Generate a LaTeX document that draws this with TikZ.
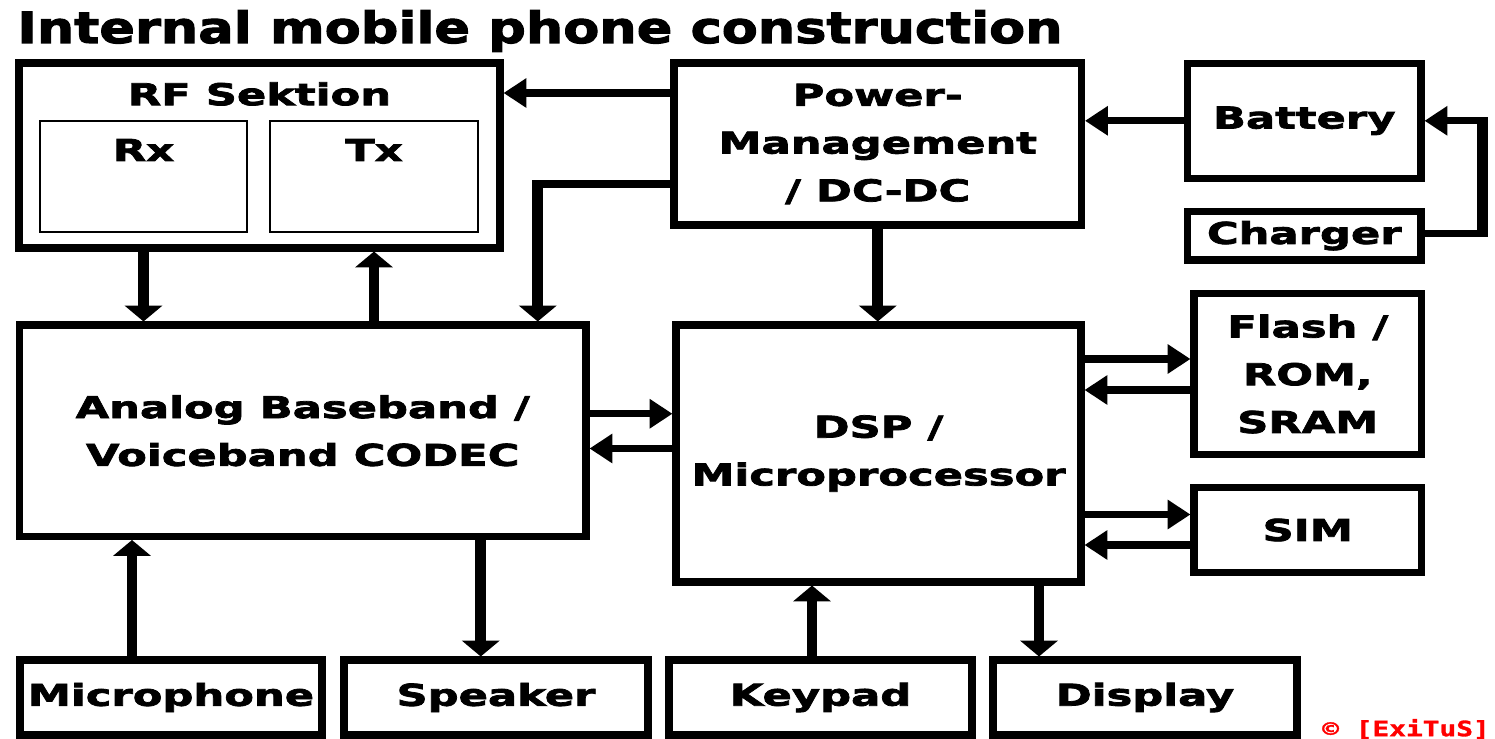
\documentclass[tikz,border=0pt]{standalone}
\usepackage{fontspec}
\usetikzlibrary{arrows.meta,calc,positioning}

\newfontfamily\boxfont{DejaVu Sans Bold}[FakeStretch=1.44,FakeBold=2.5]
\newfontfamily\headfont{DejaVu Sans Bold}[FakeStretch=1.22,FakeBold=2.5]
\newfontfamily\markfont{DejaVu Sans Mono Bold}[FakeStretch=1.32,FakeBold=1.5]
\newcommand{\boxtxt}{\boxfont\fontsize{17.1pt}{27.2pt}\selectfont}

\tikzset{
  block/.style 2 args={draw, line width=4pt, minimum width=#1*0.02cm,
    minimum height=#2*0.02cm, inner sep=0pt, align=center, font=\boxtxt},
  subblock/.style 2 args={draw, line width=1.5pt, minimum width=#1*0.02cm,
    minimum height=#2*0.02cm, inner sep=0pt},
  lbl/.style={inner sep=0pt, font=\boxtxt},
  arrv/.style={line width=6pt, -{Triangle[length=9pt,width=21pt]}},
  arrh/.style={line width=4.2pt, -{Triangle[length=13pt,width=16pt]}},
  linev/.style={line width=6pt},
  lineh/.style={line width=4.2pt},
}

\begin{document}
\begin{tikzpicture}[x=0.02cm, y=-0.02cm]
  \useasboundingbox[fill=white] (0,0) rectangle (1495,739);

  % title
  \node[anchor=base west, inner sep=0pt,
    font=\headfont\fontsize{24.5pt}{30pt}\selectfont] (title) at (17,43)
    {Internal mobile phone construction};

  % RF section with Rx / Tx
  \node[block={481}{185}] (rf) at (259.5,155.5) {};
  \node[lbl] (rflbl) at ($(rf.center)+(0,-61.5)$) {RF Sektion};
  \node[subblock={207}{111}] (rx) at (143.5,176.5) {};
  \node[subblock={208}{111}] (tx) at (374,176.5) {};
  \node[lbl] (rxlbl) at ($(rx.center)+(0,-26.5)$) {Rx};
  \node[lbl] (txlbl) at ($(tx.center)+(0,-26.5)$) {Tx};

  % power supply
  \node[block={407.5}{162}] (pm) at (877.75,144) {Power-\\Management\\/ DC-DC};
  \node[block={233.5}{115}] (battery) at (1304.25,120.8) {Battery};
  \node[block={233.5}{48.5}] (charger) at (1304.25,235.75) {Charger};

  % core blocks
  \node[block={566.5}{211.5}] (analog) at (302.75,430.75)
    {Analog Baseband /\\Voiceband CODEC};
  \node[block={405}{257}] (dsp) at (878.5,453.5) {DSP /\\Microprocessor};
  \node[block={227.5}{161.4}] (flash) at (1307.75,374) {Flash /\\ROM,\\SRAM};
  \node[block={227.5}{85}] (sim) at (1307.75,530) {SIM};

  % peripherals
  \node[block={302}{75}] (mic) at (171,697.5) {Microphone};
  \node[block={304}{75}] (speaker) at (496,697.5) {Speaker};
  \node[block={303}{75}] (keypad) at (820.5,697.5) {Keypad};
  \node[block={304}{75}] (display) at (1145,697.5) {Display};

  % RF <-> analog
  \draw[arrv] (rf.south -| rx) -- (analog.north -| rx);
  \draw[arrv] (analog.north -| tx) -- (rf.south -| tx);

  % power distribution
  \draw[arrh] ($(pm.west)+(0,-51)$) coordinate (p1) -- (p1 -| rf.east);
  \coordinate (p2) at ($(pm.west)+(0,40)$);
  \coordinate (p3) at ($(analog.north)+(235,0)$);
  \draw[lineh] (p2) -- (p2 -| p3);
  \draw[arrv, shorten <=-2.1pt] (p2 -| p3) -- (p3);
  \draw[arrv] (pm.south) -- (pm.south |- dsp.north);
  \draw[arrh] (battery.west) -- (battery.west -| pm.east);
  \coordinate (c1) at ($(charger.east)+(58,-2.5)$);
  \coordinate (c2) at (c1 |- battery.east);
  \draw[lineh] (charger.east |- c1) -- (c1);
  \draw[linev, shorten <=-2.1pt, shorten >=-2.1pt] (c1) -- (c2);
  \draw[arrh] (c2) -- (battery.east);

  % analog <-> DSP
  \draw[arrh] ($(analog.east)+(0,-17)$) coordinate (a1) -- (a1 -| dsp.west);
  \draw[arrh] ($(dsp.west)+(0,-5)$) coordinate (a2) -- (a2 -| analog.east);

  % DSP <-> memory, SIM
  \coordinate (f1) at ($(flash.west)+(0,-15)$);
  \coordinate (f2) at ($(flash.west)+(0,16)$);
  \draw[arrh] (f1 -| dsp.east) -- (f1);
  \draw[arrh] (f2) -- (f2 -| dsp.east);
  \coordinate (s1) at ($(sim.west)+(0,-15.5)$);
  \coordinate (s2) at ($(sim.west)+(0,15)$);
  \draw[arrh] (s1 -| dsp.east) -- (s1);
  \draw[arrh] (s2) -- (s2 -| dsp.east);

  % peripherals
  \draw[arrv] ($(mic.north)+(-39,0)$) coordinate (m1) -- (m1 |- analog.south);
  \draw[arrv] ($(analog.south)+(178,0)$) coordinate (m2) -- (m2 |- speaker.north);
  \draw[arrv] ($(keypad.north)+(-8.5,0)$) coordinate (m3) -- (m3 |- dsp.south);
  \draw[arrv] ($(dsp.south)+(160.5,0)$) coordinate (m4) -- (m4 |- display.north);

  % mark
  \node[inner sep=0pt, text=red, font=\markfont\fontsize{12pt}{14pt}\selectfont]
    (mark) at (1406,729) {© [ExiTuS]};
\end{tikzpicture}
\end{document}
